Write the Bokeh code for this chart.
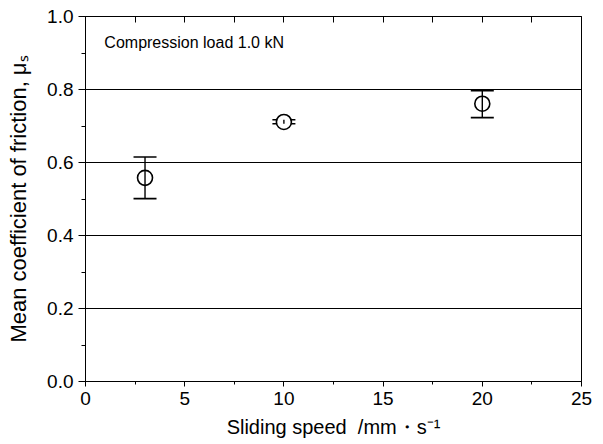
from bokeh.plotting import figure
from bokeh.models import (LinearAxis, Label, Range1d, SingleIntervalTicker,
                          FixedTicker, PrintfTickFormatter, ColumnDataSource)
from bokeh.embed import file_html
from bokeh.resources import INLINE

# ---- data ----
speed = [3, 10, 20]                 # sliding speed, mm/s
mu_mean = [0.558, 0.711, 0.761]     # mean coefficient of friction
mu_upper = [0.615, 0.717, 0.797]    # upper error bound
mu_lower = [0.501, 0.706, 0.723]    # lower error bound

x_ticks = [0, 5, 10, 15, 20, 25]
x_minor = [0, 2.5, 5, 7.5, 10, 12.5, 15, 17.5, 20, 22.5, 25]
y_ticks = [0.0, 0.2, 0.4, 0.6, 0.8, 1.0]

x_label = "Sliding speed\u00a0 /mm\u30fbs\u207b\u00b9"
y_label = "Mean coefficient of friction, \u03bc\u209b"
note = "Compression load 1.0 kN"

FONT = "Liberation Sans"

p = figure(width=603, height=444,
           x_range=Range1d(0, 25), y_range=Range1d(0, 1),
           output_backend="svg", toolbar_location=None,
           min_border_left=85, min_border_right=22,
           min_border_top=16, min_border_bottom=63,
           background_fill_color="white", border_fill_color="white")

p.outline_line_color = "black"
p.outline_line_width = 1
p.outline_line_alpha = 1

xt = FixedTicker(ticks=x_ticks, minor_ticks=x_minor)
yt = SingleIntervalTicker(interval=0.2, num_minor_ticks=2)

p.xaxis.ticker = xt
p.yaxis.ticker = yt
p.yaxis.formatter = PrintfTickFormatter(format="%.1f")

for ax in (p.xaxis, p.yaxis):
    ax.axis_line_color = "black"
    ax.major_tick_line_color = "black"
    ax.minor_tick_line_color = "black"
    ax.major_label_text_font = FONT
    ax.major_label_text_font_size = "19px"
    ax.major_label_text_color = "black"
    ax.axis_label_text_font = FONT
    ax.axis_label_text_font_style = "normal"
    ax.axis_label_text_color = "black"

p.xaxis.axis_label = x_label
p.yaxis.axis_label = y_label
p.xaxis.axis_label_text_font_size = "20px"
p.yaxis.axis_label_text_font_size = "22px"

p.xaxis.major_tick_in = 0
p.xaxis.major_tick_out = 5
p.xaxis.minor_tick_in = 0
p.xaxis.minor_tick_out = 3
p.xaxis.major_label_standoff = 5
p.xaxis.axis_label_standoff = 8

p.yaxis.major_tick_in = 0
p.yaxis.major_tick_out = 7
p.yaxis.minor_tick_in = 0
p.yaxis.minor_tick_out = 4
p.yaxis.major_label_standoff = 5
p.yaxis.axis_label_standoff = 13

# top frame ticks (inward, no labels)
top = LinearAxis(ticker=FixedTicker(ticks=[], minor_ticks=x_minor),
                 minor_tick_in=6, minor_tick_out=0,
                 axis_line_color="black",
                 minor_tick_line_color="black")
p.add_layout(top, "above")

p.xgrid.grid_line_color = None
p.ygrid.ticker = yt
p.ygrid.grid_line_color = "black"
p.ygrid.grid_line_width = 1
p.ygrid.grid_line_alpha = 1

src = ColumnDataSource(dict(x=speed, y=mu_mean, upper=mu_upper, lower=mu_lower))

p.scatter("x", "upper", source=src, marker="dash", size=23,
          line_color="black", line_width=1.6)
p.scatter("x", "lower", source=src, marker="dash", size=23,
          line_color="black", line_width=1.6)
p.scatter("x", "y", source=src, marker="circle", size=15,
          fill_color="white", line_color="black", line_width=1.6)
p.segment("x", "lower", "x", "upper", source=src,
          line_color="black", line_width=1.4)

p.add_layout(Label(x=0.95, y=0.929, text=note, text_font=FONT,
                   text_font_size="16px", text_baseline="middle",
                   text_color="black"))

open("out.html", "w").write(file_html(p, INLINE))
